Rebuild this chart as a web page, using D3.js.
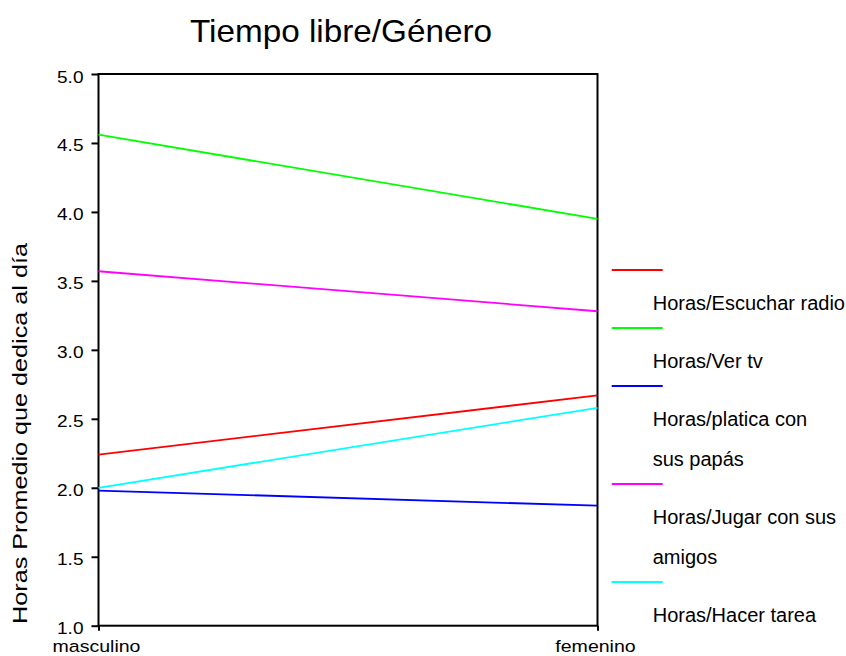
<!DOCTYPE html>
<html>
<head>
<meta charset="utf-8">
<script src="https://cdn.jsdelivr.net/npm/d3@7"></script>
<style>
  body { margin: 0; background: #fff; }
  text { font-family: "Liberation Sans", Arial, sans-serif; fill: #000; }
</style>
</head>
<body>
<div id="chart"></div>
<script>
// data
var categories = ["masculino", "femenino"];
var seriesLabels = [["Horas/Escuchar radio"], ["Horas/Ver tv"], ["Horas/platica con", "sus papás"],
                    ["Horas/Jugar con sus", "amigos"], ["Horas/Hacer tarea"]];
var masculino = [2.24, 4.56, 1.98, 3.57, 2.00];
var femenino  = [2.67, 3.95, 1.87, 3.28, 2.58];
var yTicks = [1.0, 1.5, 2.0, 2.5, 3.0, 3.5, 4.0, 4.5, 5.0];
var colors = ["#ff0000", "#00ff00", "#0000ff", "#ff00ff", "#00ffff"];

var margin = {top: 74, right: 248.5, bottom: 30.3, left: 98.5},
    width = 846 - margin.left - margin.right,
    height = 656 - margin.top - margin.bottom;

var root = d3.select("#chart")
    .append("svg")
        .attr("width", 846)
        .attr("height", 656);

var svg = root.append("g")
    .attr("transform", "translate(" + margin.left + "," + margin.top + ")");

var x = d3.scalePoint()
    .domain(categories)
    .range([0, width]);

var y = d3.scaleLinear()
    .domain([1, 5])
    .range([height, 0]);

// title
root.append("text")
    .attr("text-anchor", "middle")
    .attr("transform", "translate(341,42) scale(1.04,1)")
    .style("font-size", "32px")
    .text("Tiempo libre/Género");

// y axis label
root.append("text")
    .attr("text-anchor", "middle")
    .attr("transform", "translate(27,433.5) rotate(-90) scale(1.2,1)")
    .style("font-size", "21px")
    .text("Horas Promedio que dedica al día");

// axes
var yAxis = svg.append("g")
    .call(d3.axisLeft(y).tickValues(yTicks).tickFormat(d3.format(".1f")).tickSize(7).tickSizeOuter(0));
yAxis.select(".domain").remove();
yAxis.selectAll(".tick line").attr("stroke", "#000").attr("stroke-width", 2);
yAxis.selectAll(".tick text")
    .attr("x", null).attr("dy", null)
    .attr("transform", "translate(-15,8) scale(1.12,1)")
    .style("font-size", "17px")
    .style("font-family", "'Liberation Sans', Arial, sans-serif");

var xAxis = svg.append("g")
    .attr("transform", "translate(0," + height + ")")
    .call(d3.axisBottom(x).tickSize(5).tickSizeOuter(0));
xAxis.select(".domain").remove();
xAxis.selectAll(".tick line").attr("stroke", "#000").attr("stroke-width", 2);
xAxis.selectAll(".tick text")
    .attr("y", null).attr("dy", null)
    .attr("transform", "translate(-2.5,26) scale(1.15,1)")
    .style("font-size", "17px")
    .style("font-family", "'Liberation Sans', Arial, sans-serif");

// frame
svg.append("rect")
    .attr("width", width)
    .attr("height", height)
    .attr("fill", "none")
    .attr("stroke", "#000")
    .attr("stroke-width", 2);

// series lines
var series = seriesLabels.map(function(lines, i) {
    return {lines: lines, color: colors[i], values: [masculino[i], femenino[i]]};
});

var line = d3.line()
    .x(function(d, i) { return x(categories[i]); })
    .y(function(d) { return y(d); });

svg.selectAll(".series")
    .data(series)
    .enter()
    .append("path")
    .attr("class", "series")
    .attr("fill", "none")
    .attr("stroke", d => d.color)
    .attr("stroke-width", 1.8)
    .attr("d", d => line(d.values));

// legend (label sits below its swatch, like the original)
var legend = root.append("g");
var ly = 270;
series.forEach(function(s) {
    legend.append("line")
        .attr("x1", 611.7).attr("x2", 662.7)
        .attr("y1", ly).attr("y2", ly)
        .attr("stroke", s.color)
        .attr("stroke-width", 2);
    s.lines.forEach(function(t, k) {
        legend.append("text")
            .attr("x", 652.7)
            .attr("y", ly + 40 + 40 * k)
            .style("font-size", "20px")
            .text(t);
    });
    ly += 18 + 40 * s.lines.length;
});
</script>
</body>
</html>
